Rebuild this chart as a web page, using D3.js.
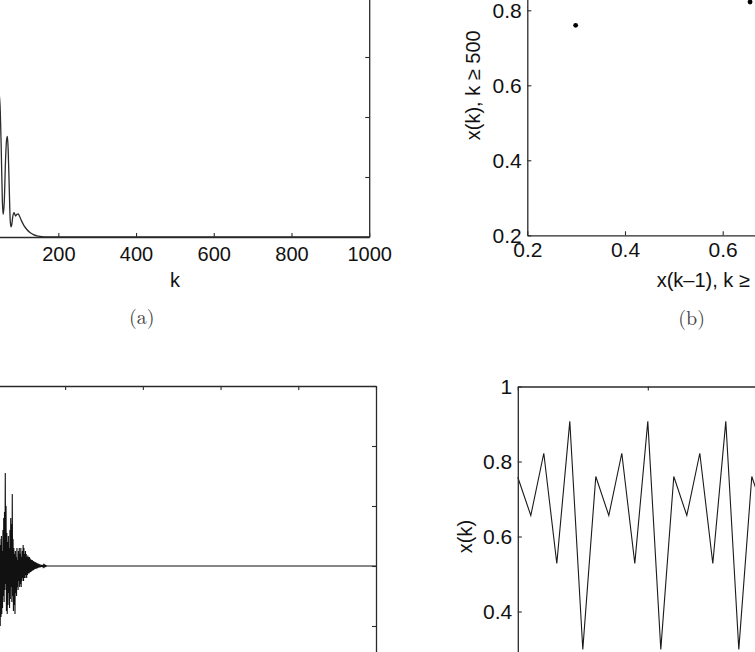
<!DOCTYPE html>
<html>
<head>
<meta charset="utf-8">
<script src="https://cdn.jsdelivr.net/npm/d3@7"></script>
<style>
  html, body { margin: 0; padding: 0; background: #fff; }
  svg { display: block; overflow: hidden; }
  .ax path.domain { stroke: #2a2a2a; stroke-width: 1.3; }
  .ax line { stroke: #2a2a2a; stroke-width: 1.1; }
  .ax text { font-family: "Liberation Sans", Arial, Helvetica, sans-serif; fill: #111; }
</style>
</head>
<body>
<svg id="chart" width="755" height="652"></svg>
<script>
// ---------- data ----------
// (a) decaying curve vs k
const aK   = [0, 6, 12, 18, 24, 30, 35, 40, 45, 48, 50, 53, 56, 58, 61, 64, 67, 69, 71, 74, 76, 78, 80, 83, 86, 88, 90, 93, 97, 100, 106, 112, 119, 127, 136, 145, 153, 165, 180, 1000];
const aVal = [0.62, 0.85, 0.40, 0.78, 0.25, 0.70, 0.22, 0.35, 0.50, 0.475, 0.44, 0.30, 0.12, 0.075, 0.12, 0.25, 0.325, 0.335, 0.29, 0.15, 0.06, 0.034, 0.04, 0.07, 0.081, 0.076, 0.07, 0.075, 0.077, 0.07, 0.052, 0.037, 0.025, 0.015, 0.008, 0.004, 0.002, 0.0006, 0, 0];
const aXTicks = [0, 200, 400, 600, 800, 1000];
const aYTicks = [0, 0.2, 0.4, 0.6, 0.8, 1];

// (b) return map x(k-1) -> x(k), k >= 500
const bPrev = [0.299, 0.760, 0.656, 0.822, 0.528, 0.907];
const bNext = [0.760, 0.656, 0.822, 0.528, 0.907, 0.299];
const bTicks = [0.2, 0.4, 0.6, 0.8, 1];

// (c) transient oscillation, k = 0,1,2,... then steady value up to k = 1000
const cVal = [
  0.35, -0.42, 0.28, -0.38, 0.45, -0.30, 0.22, -0.48, 0.40, -0.25,
  0.33, -0.44, 0.18, -0.36, 0.41, -0.29, 0.26, -0.39, 0.30, -0.22,
  0.37, -0.33, 0.15, -0.27, 0.29, -0.35, 0.21, -0.18, 0.26, -0.31,
  0.12, -0.24, 0.09, -0.20, 0.07, -0.17, 0.10, -0.16, 0.05, -0.14,
  0.12, -0.10, 0.16, -0.12, 0.18, -0.08, 0.31, -0.06, 0.20, -0.15,
  0.11, -0.16, 0.08, -0.13, 0.10, -0.09, 0.06, -0.14, 0.12, -0.11,
  0.16, -0.07, 0.14, -0.12, 0.24, -0.10, 0.09, -0.15, 0.06, -0.13,
  0.04, -0.16, 0.05, -0.09, 0.03, -0.10, 0.06, -0.07, 0.02, -0.08,
  0.05, -0.05, 0.06, -0.07, 0.04, -0.06, 0.06, -0.07, 0.03, -0.05,
  0.05, -0.04, 0.07, -0.05, 0.06, -0.04, 0.04, -0.04, 0.05, -0.03,
  0.04, -0.04, 0.03, -0.03, 0.035, -0.025, 0.03, -0.025, 0.03, -0.022,
  0.025, -0.02, 0.022, -0.018, 0.02, -0.016, 0.019, -0.015, 0.017, -0.013,
  0.015, -0.011, 0.013, -0.010, 0.012, -0.009, 0.011, -0.008, 0.009, -0.007,
  0.008, -0.006, 0.007, -0.005, 0.006, -0.005, 0.005, -0.004, 0.004, -0.003,
  0.004, -0.003, 0.003, -0.002, 0.003, -0.002, 0.002, -0.002, 0.002, -0.001,
  0.001, -0.001, 0.001, 0
];
const cSteady = 0;
const cXTicks = [0, 200, 400, 600, 800, 1000];
const cYTicks = [-0.4, -0.2, 0, 0.2, 0.4, 0.6];

// (d) periodic orbit x(k), k = 500..530
const dK   = [500, 501, 502, 503, 504, 505, 506, 507, 508, 509, 510, 511, 512, 513, 514, 515, 516, 517, 518, 519, 520, 521, 522, 523, 524, 525, 526, 527, 528, 529, 530];
const dVal = [0.758, 0.656, 0.822, 0.528, 0.907, 0.299, 0.760, 0.656, 0.822, 0.528, 0.907, 0.299, 0.760, 0.656, 0.822, 0.528, 0.907, 0.299, 0.760, 0.656, 0.822, 0.528, 0.907, 0.299, 0.760, 0.656, 0.822, 0.528, 0.907, 0.299, 0.760];
const dXTicks = [500, 510, 520, 530];
const dYTicks = [0.2, 0.4, 0.6, 0.8, 1];

// ---------- drawing ----------
const svg = d3.select("#chart");
const fmt = d3.format("~g");

function boxAxes(g, x, y, opt) {
  const [x0, x1] = x.range(), [y0, y1] = y.range();
  const fs = opt.fs;
  g.append("g").attr("class", "ax").attr("transform", `translate(0,${y0})`)
    .call(d3.axisBottom(x).tickValues(opt.xt).tickSizeInner(-4).tickSizeOuter(0).tickPadding(opt.xpad).tickFormat(fmt))
    .selectAll("text").style("font-size", fs + "px");
  g.append("g").attr("class", "ax").attr("transform", `translate(0,${y1})`)
    .call(d3.axisTop(x).tickValues(opt.xt).tickSizeInner(-4).tickSizeOuter(0).tickFormat(""));
  g.append("g").attr("class", "ax").attr("transform", `translate(${x0},0)`)
    .call(d3.axisLeft(y).tickValues(opt.yt).tickSizeInner(-4).tickSizeOuter(0).tickPadding(opt.ypad).tickFormat(fmt))
    .selectAll("text").style("font-size", fs + "px");
  g.append("g").attr("class", "ax").attr("transform", `translate(${x1},0)`)
    .call(d3.axisRight(y).tickValues(opt.yt).tickSizeInner(-4).tickSizeOuter(0).tickFormat(""));
}

function label(g, txt, x, y, size, rot, family, color) {
  const t = g.append("text").text(txt)
    .attr("text-anchor", "middle")
    .style("font-family", family || '"Liberation Sans", Arial, Helvetica, sans-serif')
    .style("font-size", size + "px")
    .style("fill", color || "#111");
  if (rot) t.attr("transform", `translate(${x},${y}) rotate(${rot})`);
  else t.attr("x", x).attr("y", y);
}
const serif = '"Latin Modern Roman", "Liberation Serif", "Times New Roman", serif';

// (a)
{
  const x = d3.scaleLinear().domain([0, 1000]).range([-19.4, 369.2]);
  const y = d3.scaleLinear().domain([0, 1]).range([237, -63]);
  const g = svg.append("g");
  g.append("path").datum(aK.map((k, i) => [k, aVal[i]]))
    .attr("d", d3.line().x(d => x(d[0])).y(d => y(d[1])).curve(d3.curveMonotoneX))
    .attr("fill", "none").attr("stroke", "#2b2b2b").attr("stroke-width", 1.3);
  boxAxes(g, x, y, { xt: aXTicks, yt: aYTicks, fs: 20, xpad: 10, ypad: 6 });
  label(g, "k", 174.9, 287, 20);
  label(g, "(a)", 141.7, 324, 20, 0, serif, "#444");
}

// (b)
{
  const x = d3.scaleLinear().domain([0.2, 1]).range([527.3, 918.1]);
  const y = d3.scaleLinear().domain([0.2, 1]).range([235.3, -64.7]);
  const g = svg.append("g");
  boxAxes(g, x, y, { xt: bTicks, yt: bTicks, fs: 21, xpad: 7, ypad: 5.6 });
  g.selectAll("circle.pt").data(bPrev.map((p, i) => [p, bNext[i]])).join("circle")
    .attr("class", "pt").attr("cx", d => x(d[0])).attr("cy", d => y(d[1]))
    .attr("r", 2.4).attr("fill", "#000");
  label(g, "x(k–1), k ≥ 500", 722.7, 287, 20);
  label(g, "x(k), k ≥ 500", 480, 85.3, 20, -90);
  label(g, "(b)", 691.7, 325, 20, 0, serif, "#444");
}

// (c)
{
  const x = d3.scaleLinear().domain([0, 1000]).range([-12.6, 376]);
  const y = d3.scaleLinear().domain([-0.4, 0.6]).range([686, 386]);
  const g = svg.append("g");
  const pts = cVal.map((v, k) => [k, v]);
  pts.push([1000, cSteady]);
  g.append("path").datum(pts)
    .attr("d", d3.line().x(d => x(d[0])).y(d => y(d[1])))
    .attr("fill", "none").attr("stroke", "#111").attr("stroke-width", 1.1);
  boxAxes(g, x, y, { xt: cXTicks, yt: cYTicks, fs: 20, xpad: 10, ypad: 6 });
}

// (d)
{
  const x = d3.scaleLinear().domain([500, 530]).range([517.8, 907.8]);
  const y = d3.scaleLinear().domain([0.2, 1]).range([686.5, 386.5]);
  const g = svg.append("g");
  g.append("path").datum(dK.map((k, i) => [k, dVal[i]]))
    .attr("d", d3.line().x(d => x(d[0])).y(d => y(d[1])))
    .attr("fill", "none").attr("stroke", "#1a1a1a").attr("stroke-width", 1.1);
  boxAxes(g, x, y, { xt: dXTicks, yt: dYTicks, fs: 21, xpad: 7, ypad: 5.6 });
  label(g, "x(k)", 472, 536.5, 20, -90);
}
</script>
</body>
</html>
